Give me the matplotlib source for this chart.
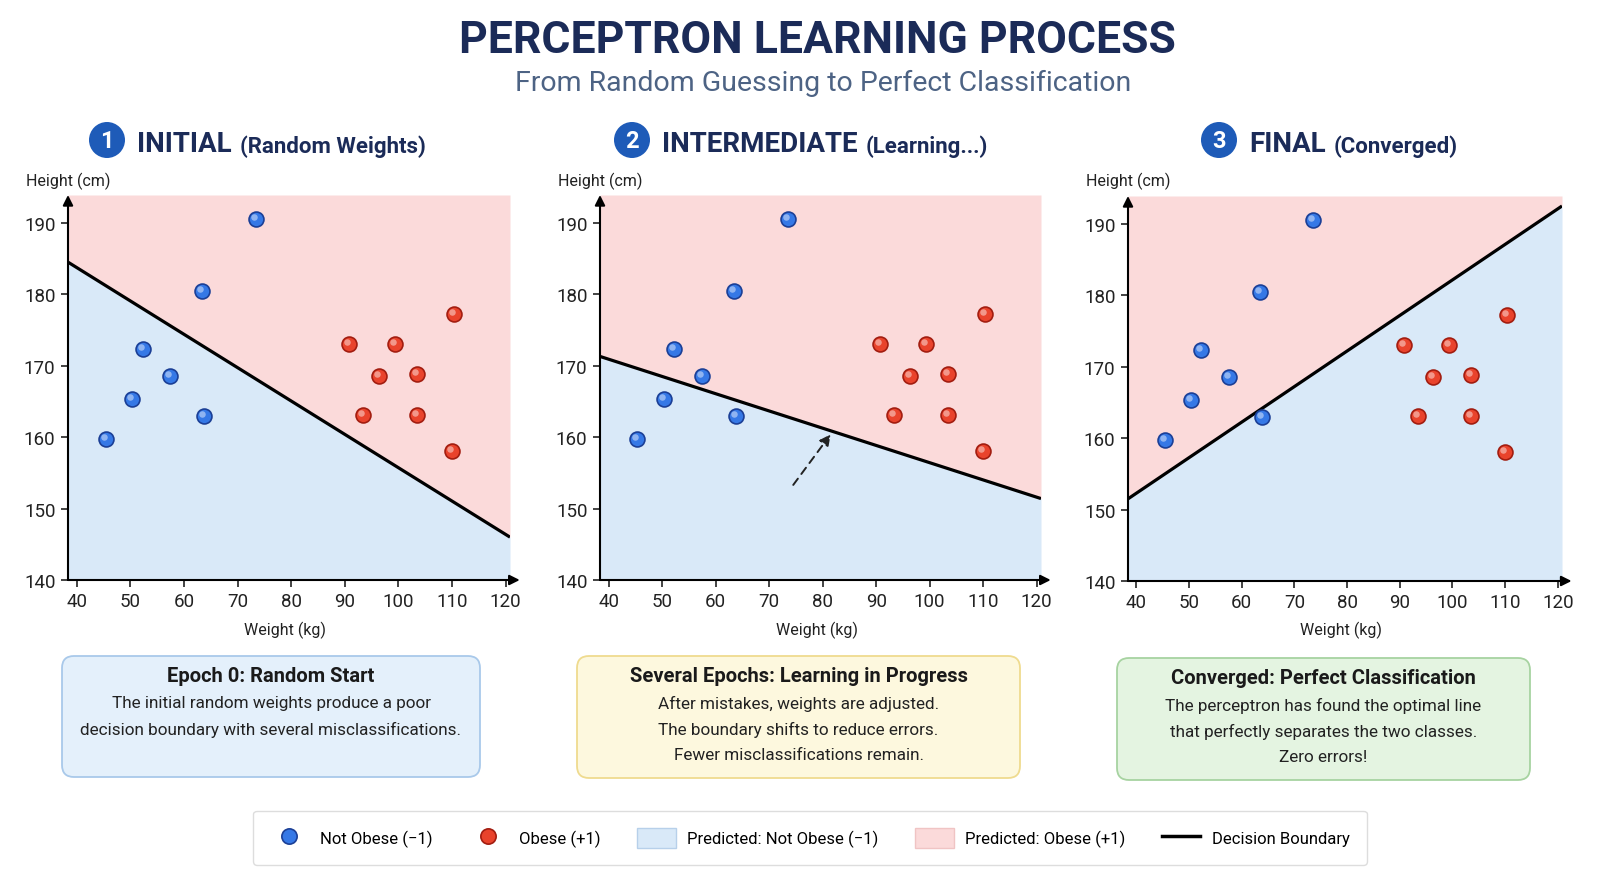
import numpy as np
import matplotlib
matplotlib.use("Agg")
import matplotlib.pyplot as plt
import matplotlib.patches as mpatches
import matplotlib.transforms as mtransforms
from matplotlib.lines import Line2D

plt.rcParams['font.family'] = ['Roboto', 'DejaVu Sans']
TITLE_FONT = ['Liberation Sans Narrow', 'Roboto', 'DejaVu Sans']

# ---- data ----
blue_w = [45.4, 50.4, 52.3, 57.5, 63.4, 63.8, 73.5]
blue_h = [159.8, 165.4, 172.3, 168.5, 180.4, 162.9, 190.5]
red_w = [90.8, 93.4, 96.4, 99.4, 103.5, 103.5, 110.4, 110.0]
red_h = [173.1, 163.1, 168.6, 173.1, 168.8, 163.1, 177.2, 158.1]

x_ticks = [40, 50, 60, 70, 80, 90, 100, 110, 120]
y_ticks = [140, 150, 160, 170, 180, 190]
xlim = (38.4, 120.8)
ylim = (140, 193.9)

# decision boundary: height at the left and right edge of the plot
boundary_x = [38.4, 120.8]
boundary_y = [
    [184.5, 146.0],
    [171.3, 151.4],
    [151.5, 192.5],
]
shift_arrow_start = (74.2, 153.0)
shift_arrow_end = (81.8, 160.7)

panel_nums = ['1', '2', '3']
panel_heads = ['INITIAL', 'INTERMEDIATE', 'FINAL']
panel_subs = ['(Random Weights)', '(Learning...)', '(Converged)']

box_titles = ['Epoch 0: Random Start',
              'Several Epochs: Learning in Progress',
              'Converged: Perfect Classification']
box_lines = [
    ['The initial random weights produce a poor',
     'decision boundary with several misclassifications.'],
    ['After mistakes, weights are adjusted.',
     'The boundary shifts to reduce errors.',
     'Fewer misclassifications remain.'],
    ['The perceptron has found the optimal line',
     'that perfectly separates the two classes.',
     'Zero errors!'],
]
legend_labels = ['Not Obese (\u22121)', 'Obese (+1)', 'Predicted: Not Obese (\u22121)',
                 'Predicted: Obese (+1)', 'Decision Boundary']

# ---- styling ----
BLUE, BLUE_EDGE = '#3578e6', '#1b3f96'
RED, RED_EDGE = '#e9432c', '#a21d10'
REGION_BLUE, REGION_RED = '#d9e9f8', '#fbdada'
NAVY = '#1b2b58'
W, H = 1600, 878

fig = plt.figure(figsize=(W / 100, H / 100), dpi=100)
fig.patch.set_facecolor('white')

# pixel canvas for titles, boxes and legend (y grows downward)
canvas = fig.add_axes([0, 0, 1, 1], zorder=0)
canvas.set_xlim(0, W)
canvas.set_ylim(H, 0)
canvas.axis('off')

canvas.text(817, 53, 'PERCEPTRON LEARNING PROCESS', ha='center', va='baseline',
            fontsize=32, fontweight='bold', color=NAVY, family=TITLE_FONT)
canvas.text(823, 91, 'From Random Guessing to Perfect Classification', ha='center',
            va='baseline', fontsize=20.5, color='#4d6384')

panel_px = [(68, 196, 510, 581), (600, 196, 1041, 581), (1128, 197, 1562, 582)]
circle_x = [107, 632, 1219]
box_px = [(62, 657, 480, 778), (577, 657, 1020, 779), (1117, 659, 1530, 781)]
box_fc = ['#e4f0fb', '#fdf8de', '#e4f4e1']
box_ec = ['#a9c9ea', '#efdb8f', '#a7d3a1']

for i in range(3):
    x0, y0, x1, y1 = panel_px[i]
    ax = fig.add_axes([x0 / W, 1 - y1 / H, (x1 - x0) / W, (y1 - y0) / H], zorder=2)
    ax.set_facecolor('none')
    ax.fill_between(boundary_x, boundary_y[i], ylim[1], color=REGION_RED, lw=0)
    ax.fill_between(boundary_x, ylim[0], boundary_y[i], color=REGION_BLUE, lw=0)
    ax.plot(boundary_x, boundary_y[i], color='black', lw=2.3, solid_capstyle='butt')

    shine = mtransforms.offset_copy(ax.transData, fig=fig, x=-2, y=2, units='dots')
    ax.scatter(blue_w, blue_h, s=115, c=BLUE, edgecolors=BLUE_EDGE, linewidths=1.2, zorder=4)
    ax.scatter(red_w, red_h, s=115, c=RED, edgecolors=RED_EDGE, linewidths=1.2, zorder=4)
    ax.scatter(blue_w, blue_h, s=22, c='white', alpha=0.45, lw=0, zorder=5, transform=shine)
    ax.scatter(red_w, red_h, s=22, c='white', alpha=0.45, lw=0, zorder=5, transform=shine)

    if i == 1:
        ax.annotate('', xy=shift_arrow_end, xytext=shift_arrow_start,
                    arrowprops=dict(arrowstyle='-|>', linestyle=(0, (4, 3)), lw=1.4,
                                    color='#222222', mutation_scale=16))

    ax.set_xlim(xlim)
    ax.set_ylim(ylim)
    ax.set_xticks(x_ticks)
    ax.set_yticks(y_ticks)
    ax.tick_params(length=5, width=1.2, labelsize=13.5, colors='#222222', pad=4)
    for s in ax.spines.values():
        s.set_visible(False)
    ax.annotate('', xy=(1.022, 0), xytext=(0, 0), xycoords='axes fraction',
                arrowprops=dict(arrowstyle='-|>', lw=1.5, color='black', mutation_scale=15,
                                shrinkA=0, shrinkB=0), annotation_clip=False)
    ax.annotate('', xy=(0, 1.0), xytext=(0, 0), xycoords='axes fraction',
                arrowprops=dict(arrowstyle='-|>', lw=1.5, color='black', mutation_scale=15,
                                shrinkA=0, shrinkB=0), annotation_clip=False)

    canvas.text(x0 - 42, 181, 'Height (cm)', ha='left', va='center', fontsize=11.5,
                color='#222222')
    canvas.text((x0 + x1) / 2 - 4, 630, 'Weight (kg)', ha='center', va='center',
                fontsize=11.5, color='#222222')

    # panel heading
    cx = circle_x[i]
    canvas.add_patch(mpatches.Circle((cx, 141), 18, fc='#1e5bb8', ec='none'))
    canvas.text(cx, 142, panel_nums[i], ha='center', va='center', fontsize=17,
                fontweight='bold', color='white')
    t = canvas.text(cx + 30, 152, panel_heads[i], ha='left', va='baseline', fontsize=20,
                    fontweight='bold', color=NAVY, family=TITLE_FONT)
    canvas.annotate(panel_subs[i], xy=(1, 0), xycoords=t, xytext=(6, 0),
                    textcoords='offset points', ha='left', va='bottom', fontsize=16,
                    fontweight='bold', color=NAVY, family=TITLE_FONT)

    # explanation box
    bx0, by0, bx1, by1 = box_px[i]
    canvas.add_patch(mpatches.FancyBboxPatch((bx0, by0), bx1 - bx0, by1 - by0,
                                             boxstyle='round,pad=0,rounding_size=12',
                                             fc=box_fc[i], ec=box_ec[i], lw=1.3))
    bcx = (bx0 + bx1) / 2
    canvas.text(bcx, by0 + 20, box_titles[i], ha='center', va='center', fontsize=14.5,
                fontweight='bold', color='#1a1a1a')
    for k, line in enumerate(box_lines[i]):
        canvas.text(bcx, by0 + 47 + 26 * k, line, ha='center', va='center', fontsize=12.3,
                    color='#222222')

handles = [
    Line2D([], [], marker='o', ls='none', markersize=11, mfc=BLUE, mec=BLUE_EDGE, mew=1.2),
    Line2D([], [], marker='o', ls='none', markersize=11, mfc=RED, mec=RED_EDGE, mew=1.2),
    mpatches.Patch(fc=REGION_BLUE, ec='#b7d0ea'),
    mpatches.Patch(fc=REGION_RED, ec='#f0c4c4'),
    Line2D([], [], color='black', lw=2.5),
]
leg = canvas.legend(handles, legend_labels, loc='center', bbox_to_anchor=(810, 839),
                    bbox_transform=canvas.transData, ncol=5, fontsize=12, frameon=True,
                    fancybox=True, handlelength=2.3, handleheight=1.5, columnspacing=2.2,
                    handletextpad=0.7, borderpad=1.0, edgecolor='#dddddd', framealpha=1)
leg.get_frame().set_linewidth(1.0)

fig.savefig('out.png', dpi=100, facecolor='white')
